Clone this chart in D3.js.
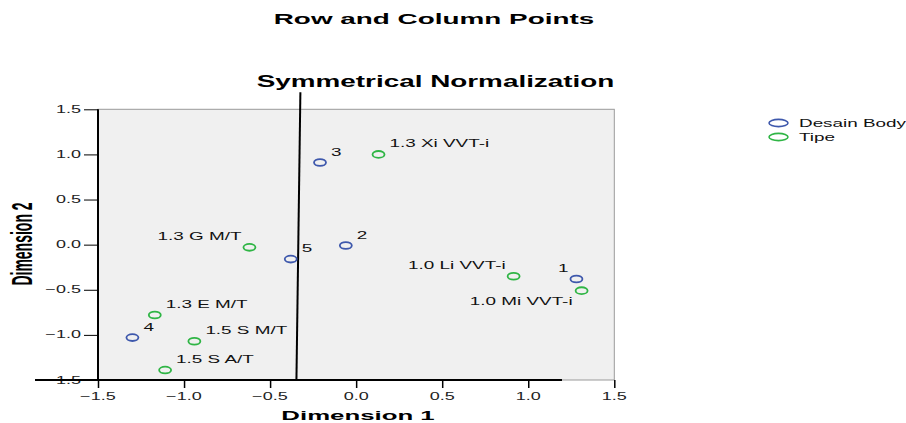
<!DOCTYPE html>
<html>
<head>
<meta charset="utf-8">
<script src="https://cdn.jsdelivr.net/npm/d3@7"></script>
<style>
  body { margin: 0; background: #fff; }
  text { font-family: "Liberation Sans", Arial, sans-serif; }
</style>
</head>
<body>
<div id="chart"></div>
<script>
// row points (Desain Body)
const rowLabels = ["1", "2", "3", "4", "5"];
const rowDim1 = [1.28, -0.06, -0.21, -1.30, -0.38];
const rowDim2 = [-0.38, -0.01, 0.91, -1.03, -0.16];
const rowPlace = ["left", "right", "right", "right", "right"];

// column points (Tipe)
const colLabels = ["1.3 Xi VVT-i", "1.0 Li VVT-i", "1.0 Mi VVT-i", "1.3 G M/T", "1.3 E M/T", "1.5 S M/T", "1.5 S A/T"];
const colDim1 = [0.13, 0.915, 1.31, -0.62, -1.17, -0.94, -1.11];
const colDim2 = [1.0, -0.35, -0.51, -0.03, -0.78, -1.07, -1.39];
const colPlace = ["right", "left", "belowleft", "left", "right", "right", "right"];

const tickVals = [-1.5, -1.0, -0.5, 0.0, 0.5, 1.0, 1.5];
const legendNames = ["Desain Body", "Tipe"];

// stray reference lines in the picture (data units)
const vLineX = [-0.324, -0.347];
const vLineY = [1.69, -1.5];
const hLineX = [-1.866, 1.196];
const hLineY = [-1.5, -1.5];

const W = 906, H = 423;
const SX = 1.8; // the whole picture is stretched sideways
const blue = "#3e58ac", green = "#2fb545";

const svg = d3.select("#chart").append("svg")
  .attr("width", W).attr("height", H);

const x = d3.scaleLinear().domain([-1.5, 1.5]).range([98, 614.3]);
const y = d3.scaleLinear().domain([-1.5, 1.5]).range([380, 109.3]);

// stretched text helper
function stext(g, tx, ty, str, opts) {
  opts = opts || {};
  return g.append("text")
    .attr("transform", `translate(${tx},${ty}) scale(${opts.sx || SX},1)` + (opts.rot ? ` rotate(${opts.rot})` : ""))
    .attr("text-anchor", opts.anchor || "start")
    .attr("font-size", opts.size || 10)
    .attr("font-weight", opts.bold ? "bold" : "normal")
    .attr("fill", opts.fill || "#000")
    .text(str);
}

// titles
stext(svg, 434, 24, "Row and Column Points", {anchor: "middle", size: 15, bold: true, sx: 1.86});
stext(svg, 435.5, 87, "Symmetrical Normalization", {anchor: "middle", size: 17, bold: true, sx: 1.64});

// plot background
svg.append("rect")
  .attr("x", x(-1.5)).attr("y", y(1.5))
  .attr("width", x(1.5) - x(-1.5)).attr("height", y(-1.5) - y(1.5))
  .attr("fill", "#f0f0f0").attr("stroke", "#9a9a9a").attr("stroke-width", 1);

// axes
const xAxis = svg.append("g")
  .attr("transform", `translate(0,${y(-1.5)})`)
  .call(d3.axisBottom(x).tickValues(tickVals).tickSize(8).tickFormat(""));
xAxis.select(".domain").remove();
xAxis.selectAll(".tick line").attr("stroke", "#000").attr("stroke-width", 1.5);

const yAxis = svg.append("g")
  .attr("transform", `translate(${x(-1.5)},0)`)
  .call(d3.axisLeft(y).tickValues(tickVals).tickSize(14).tickFormat(""));
yAxis.select(".domain").remove();
yAxis.selectAll(".tick line").attr("stroke", "#000").attr("stroke-width", 1);

tickVals.forEach(v => {
  stext(svg, x(v), y(-1.5) + 20, d3.format(".1f")(v), {anchor: "middle", size: 10, fill: "#222"});
  stext(svg, x(-1.5) - 17, y(v) + 3.5, d3.format(".1f")(v), {anchor: "end", size: 10, fill: "#222"});
});

// left axis line
svg.append("line")
  .attr("x1", x(-1.5)).attr("x2", x(-1.5))
  .attr("y1", y(1.5)).attr("y2", y(-1.5))
  .attr("stroke", "#000").attr("stroke-width", 2);

// stray lines
svg.append("line")
  .attr("x1", x(vLineX[0])).attr("y1", y(vLineY[0]))
  .attr("x2", x(vLineX[1])).attr("y2", y(vLineY[1]))
  .attr("stroke", "#000").attr("stroke-width", 2);
svg.append("line")
  .attr("x1", x(hLineX[0])).attr("y1", y(hLineY[0]))
  .attr("x2", x(hLineX[1])).attr("y2", y(hLineY[1]))
  .attr("stroke", "#000").attr("stroke-width", 2.2);

// axis titles
stext(svg, 358, 420, "Dimension 1", {anchor: "middle", size: 12, bold: true, sx: 2.15});
stext(svg, 32, 244, "Dimension 2", {anchor: "middle", size: 14, bold: true, sx: 1, rot: -90})
  .attr("transform", `translate(32,244) scale(2.1,1) rotate(-90)`);

// points + labels
function drawSet(d1, d2, labels, place, color) {
  const g = svg.append("g");
  d1.forEach((v, i) => {
    const px = x(v), py = y(d2[i]);
    g.append("ellipse")
      .attr("cx", px).attr("cy", py)
      .attr("rx", 6).attr("ry", 3.4)
      .attr("fill", "none").attr("stroke", color).attr("stroke-width", 1.8);
    const p = place[i];
    if (p === "right") stext(g, px + 11, py - 7, labels[i], {size: 10.5, fill: "#111"});
    else if (p === "left") stext(g, px - 8, py - 7, labels[i], {size: 10.5, fill: "#111", anchor: "end"});
    else stext(g, px - 9, py + 14, labels[i], {size: 10.5, fill: "#111", anchor: "end"});
  });
}
drawSet(rowDim1, rowDim2, rowLabels, rowPlace, blue);
drawSet(colDim1, colDim2, colLabels, colPlace, green);

// legend
const leg = svg.append("g");
legendNames.forEach((n, i) => {
  const ly = 123 + i * 14;
  leg.append("ellipse")
    .attr("cx", 778.5).attr("cy", ly)
    .attr("rx", 9.5).attr("ry", 3.6)
    .attr("fill", "none").attr("stroke", i === 0 ? blue : green).attr("stroke-width", 1.6);
  stext(leg, 799, ly + 4, n, {size: 10.5, fill: "#111"});
});
</script>
</body>
</html>
